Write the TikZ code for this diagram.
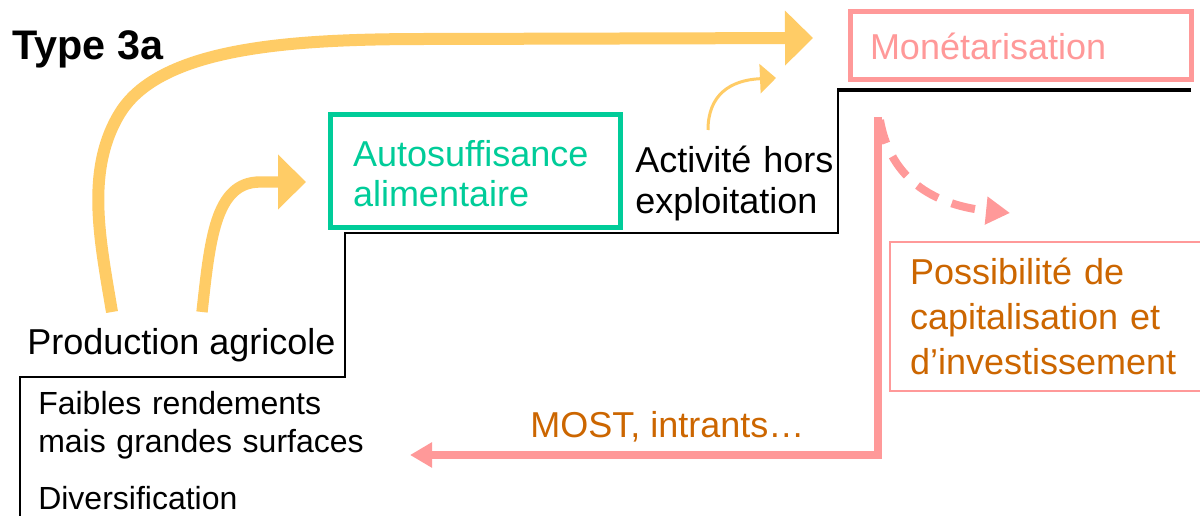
\documentclass[tikz,border=0pt]{standalone}
\usepackage{fontspec}
\setmainfont{Liberation Sans}
\usetikzlibrary{arrows.meta}
\definecolor{gold}{HTML}{FFCC66}
\definecolor{mint}{HTML}{00CC99}
\definecolor{rose}{HTML}{FF9999}
\definecolor{rust}{HTML}{CC6600}
\begin{document}
\begin{tikzpicture}[x=0.75pt,y=-0.75pt,
  txt/.style={inner sep=0pt, anchor=base west, font=\fontsize{27}{30}\selectfont},
  smalltxt/.style={inner sep=0pt, anchor=base west, font=\fontsize{24}{28.5}\selectfont},
  goldarrow/.style={draw=gold, line width=9pt, line cap=butt,
    -{Triangle[length=21pt,width=40pt]}},
  rosearrow/.style={draw=rose, line width=6pt,
    -{Triangle[length=16.5pt,width=18pt]}}]
\useasboundingbox (0,0) rectangle (1200,516);
\fill[white] (0,0) rectangle (1200,516);

% staircase profile
\draw[line width=1.5pt, line join=miter] (838,90) -- (838,233) -- (345,233) -- (345,377) -- (20,377) -- (20,520);
\draw[line width=2.4pt] (1191,90) -- (837,90);

% title
\node[inner sep=0pt, anchor=base west, font=\fontsize{31}{34}\selectfont\bfseries] (title) at (12,60) {Type 3a};

% boxes
\node[draw=rose, line width=3.75pt, text=rose, font=\fontsize{27}{30}\selectfont,
      minimum width=255.75pt, minimum height=51pt, inner xsep=15pt,
      text width=225.75pt, align=left] (mon) at (1020.5,46) {Monétarisation};
\node[draw=mint, line width=3.75pt, text=mint, font=\fontsize{27}{29.5}\selectfont,
      minimum width=217.5pt, minimum height=84.75pt, inner xsep=17.25pt,
      text width=183pt, align=left] (auto) at (475,171.5) {\rule{0pt}{23pt}Autosuffisance\\alimentaire};
\node[draw=rose, line width=1.5pt, text=rust, font=\fontsize{27}{33.75}\selectfont,
      minimum width=240pt, minimum height=111.75pt, inner xsep=15pt,
      text width=210pt, align=left] (cap) at (1050,316.5) {Possibilité de\\capitalisation et\\d’investissement};

% plain labels
\node[txt, text width=150pt, align=left, font=\fontsize{27}{30.75}\selectfont] (hors) at (635,173) {Activité hors\\exploitation};
\node[txt] (prod) at (27,355) {Production agricole};
\node[smalltxt, text width=260pt, align=left] (faib) at (38,415) {Faibles rendements\\mais grandes surfaces};
\node[smalltxt] (div) at (38,510) {Diversification};
\node[txt, text=rust] (most) at (530,438) {MOST, intrants…};

% arrow end points
\coordinate (p1) at (112,312);
\coordinate (p2) at (202,312);
\coordinate (t1) at (813,38);
\coordinate (t2) at (306,182);
\coordinate (h1) at (708,130);
\coordinate (t3) at (776,78);
\coordinate (r0) at (878,117);
\coordinate (r1) at (878,455);
\coordinate (r2) at (410,455);
\coordinate (d1) at (1010,213);

% production -> monetarisation / autosuffisance
\draw[goldarrow] (p1) .. controls (100,240) and (85,170) .. (120,113)
  .. controls (162,45) and (300,39) .. (430,39) -- (t1);
\draw[goldarrow, line width=8.5pt] (p2) .. controls (210,240) and (215,182) .. (260,182) -- (t2);
% off-farm activity -> monetarisation
\draw[draw=gold, line width=2.25pt, -{Triangle[length=12pt,width=21.75pt]}]
  (h1) .. controls (708,95) and (730,80) .. (t3);

% monetarisation -> inputs
\draw[rosearrow, line join=miter] (r0) -- (r1) -- (r2);
% monetarisation -> capitalisation (dashed)
\draw[draw=rose, line width=6pt, dash pattern=on 18pt off 11pt,
      -{Triangle[length=18pt,width=20pt]}]
  (880,120) .. controls (892,190) and (950,207) .. (d1);
\end{tikzpicture}
\end{document}
